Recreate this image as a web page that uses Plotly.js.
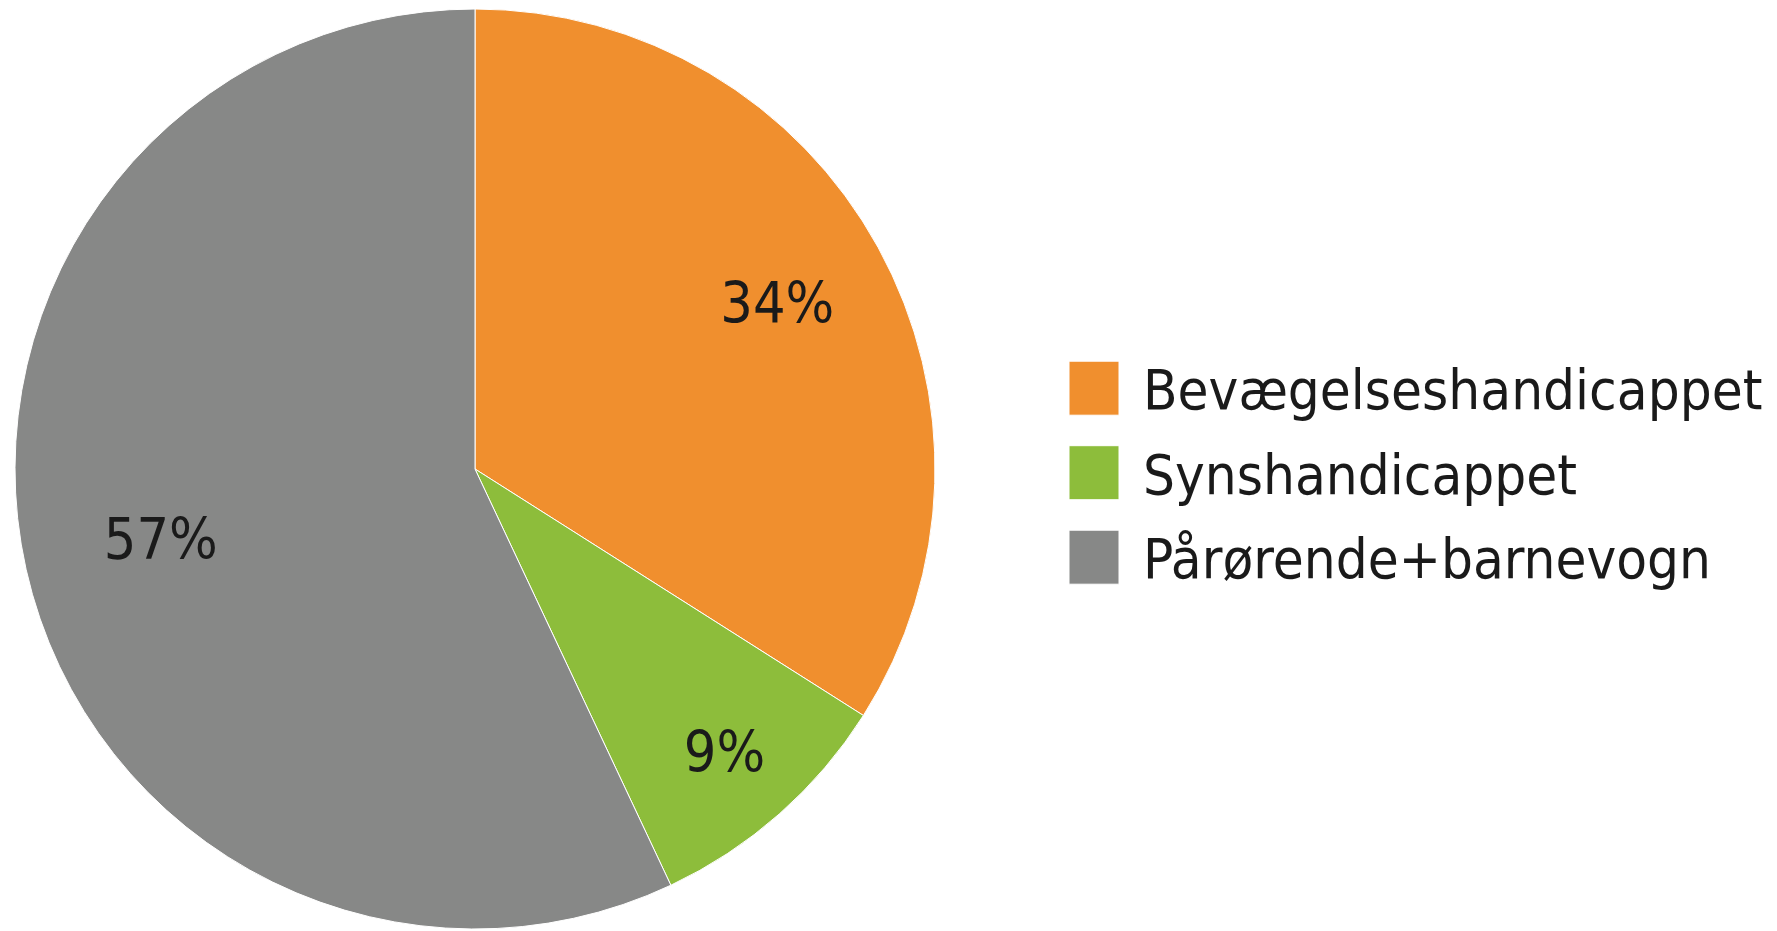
<!DOCTYPE html>
<html>
<head>
<meta charset="utf-8">
<script src="https://cdn.plot.ly/plotly-3.0.1.min.js"></script>
<style>html,body{margin:0;padding:0;background:#fff;}#chart{width:1777px;height:931px;}</style>
</head>
<body>
<div id="chart"></div>
<script>
const categories = ["Bevægelseshandicappet", "Synshandicappet", "Pårørende+barnevogn"];
const values = [34, 9, 57];
const colors = ["#F08F2E", "#8DBD3B", "#878887"];
const labelHoles = [0.5, 0.64, 0.40];

const FONT = "DejaVu Sans Condensed, DejaVu Sans, sans-serif";
const DOMAIN = {x: [15/1777, 935/1777], y: [2/931, 922/931]};

const data = [{
  type: "pie",
  labels: categories,
  values: values,
  sort: false,
  direction: "clockwise",
  rotation: 0,
  marker: {colors: colors, line: {color: "#ffffff", width: 1}},
  textinfo: "none",
  domain: DOMAIN,
  hoverinfo: "label+percent"
}];

categories.forEach(function(c, k){
  data.push({
    type: "pie",
    labels: categories,
    values: values,
    sort: false,
    direction: "clockwise",
    rotation: 0,
    hole: labelHoles[k],
    showlegend: false,
    marker: {colors: categories.map(function(){ return "rgba(0,0,0,0)"; }), line: {width: 0}},
    texttemplate: categories.map(function(_, j){ return j === k ? "%{percent}" : ""; }),
    textposition: "inside",
    insidetextorientation: "horizontal",
    insidetextfont: {family: FONT, size: 57, color: "#1a1a1a"},
    domain: DOMAIN,
    hoverinfo: "skip"
  });
});

const layout = {
  width: 1777, height: 931,
  margin: {l: 0, r: 0, t: 0, b: 0},
  paper_bgcolor: "#ffffff",
  showlegend: true,
  legend: {
    x: 1067/1777, xanchor: "left",
    y: 1 - 472/931, yanchor: "middle",
    font: {family: FONT, size: 56, color: "#1a1a1a"},
    itemwidth: 66,
    bgcolor: "rgba(0,0,0,0)"
  },
  font: {family: FONT}
};

Plotly.newPlot("chart", data, layout, {displayModeBar: false, staticPlot: true}).then(function(gd){
  gd.querySelectorAll(".legend [clip-path]").forEach(function(el){ el.removeAttribute("clip-path"); });
  const paths = gd.querySelectorAll(".legend .legendpie, .legend .legendpoints path");
  paths.forEach(function(p){
    p.setAttribute("d", "M-25,-27H25V27H-25Z");
    p.setAttribute("transform", "translate(27,1)");
  });
  const items = Array.from(gd.querySelectorAll(".legend .traces"));
  const ys = items.map(function(t){
    const m = /translate\(\s*([-\d.e]+)[ ,]+([-\d.e]+)\s*\)/.exec(t.getAttribute("transform") || "");
    return m ? [parseFloat(m[1]), parseFloat(m[2])] : [0, 0];
  });
  if (ys.length) {
    const mid = (ys[0][1] + ys[ys.length - 1][1]) / 2;
    const gap = 84.5;
    items.forEach(function(t, i){
      const y = mid + (i - (items.length - 1) / 2) * gap;
      t.setAttribute("transform", "translate(" + ys[i][0] + "," + y + ")");
    });
  }
});
</script>
</body>
</html>
